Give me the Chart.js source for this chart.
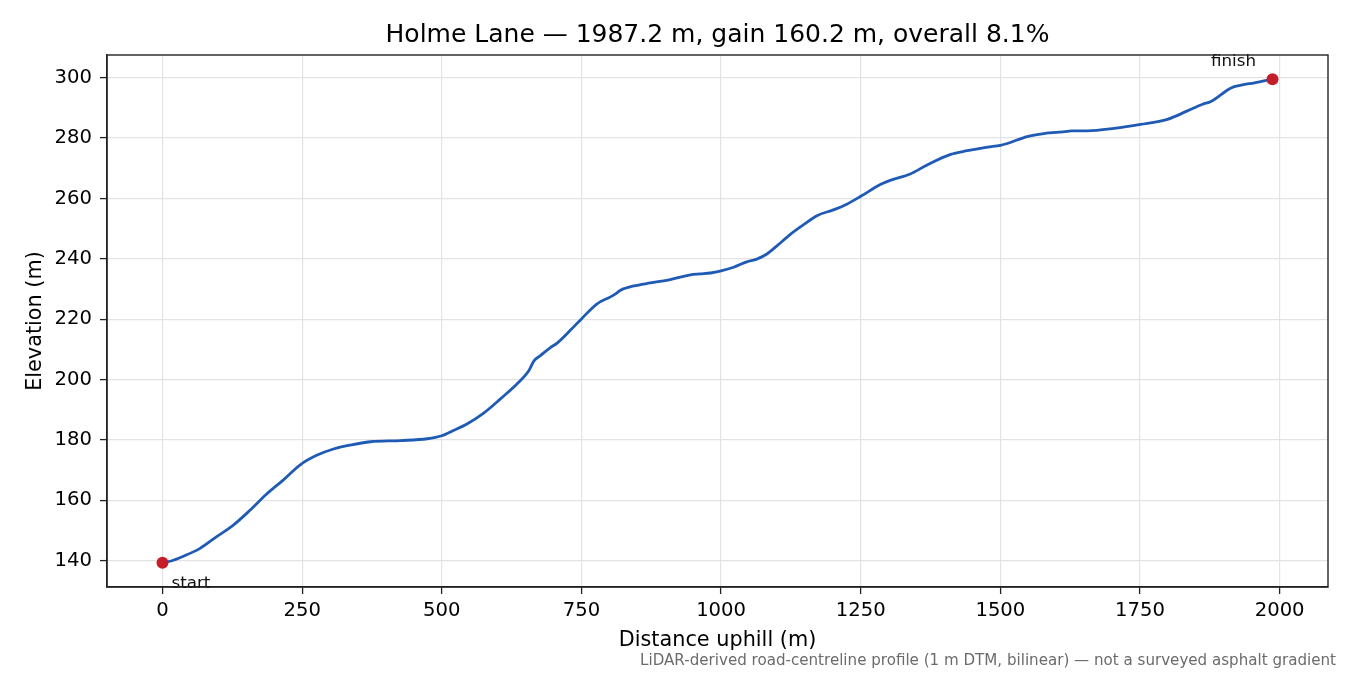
<!DOCTYPE html>
<html lang="en">
<head>
<meta charset="UTF-8">
<title>Holme Lane elevation profile</title>
<script src="https://cdn.jsdelivr.net/npm/chart.js"></script>
<style>
    body { margin: 0; background: #fff; }
    .wrap { position: relative; width: 1350px; height: 675px; }
</style>
</head>
<body>
<div class="wrap"><canvas id="profile"></canvas></div>
<script>
// distance along the road (m) and elevation (m)
const distance = [0, 15.6, 36.5, 66.5, 96.4, 126.3, 156, 186, 216, 246, 276, 306, 336, 372, 426, 474,
    500, 521.5, 545, 575, 605, 635, 656, 665, 677, 695, 706.5, 730, 750, 778, 802, 811, 820, 843.6,
    873.4, 909, 945, 963, 981, 1000, 1022.5, 1046, 1064, 1082, 1100, 1124, 1147.7, 1171.6, 1201, 1225,
    1250, 1285, 1302.8, 1338.7, 1369, 1411, 1441, 1477, 1500, 1512.5, 1548, 1578, 1620, 1627, 1656,
    1704, 1751, 1799, 1835, 1862, 1877, 1913, 1931, 1955, 1987.2];
const elevation = [139.3, 139.9, 141.4, 144.0, 147.9, 151.7, 156.6, 162.0, 166.7, 171.7, 174.9, 177.0,
    178.3, 179.4, 179.8, 180.4, 181.4, 183.2, 185.3, 188.9, 193.6, 198.6, 203.0, 206.2, 208.0, 210.7,
    212.1, 216.3, 220.1, 225.1, 227.4, 228.4, 229.6, 231.0, 232.0, 233.1, 234.7, 235.0, 235.3, 236.0,
    237.2, 239.0, 239.9, 241.6, 244.3, 248.1, 251.3, 254.3, 256.2, 258.1, 260.7, 264.6, 266.0, 268.1,
    271.1, 274.6, 275.8, 277.0, 277.6, 278.2, 280.5, 281.5, 282.2, 282.4, 282.4, 283.2, 284.5, 286.2,
    289.0, 291.2, 292.1, 296.6, 297.5, 298.3, 299.5];

const endLabels = ['start', 'finish'];
const xTicks = [0, 250, 500, 750, 1000, 1250, 1500, 1750, 2000];
const yTicks = [140, 160, 180, 200, 220, 240, 260, 280, 300];

const titleText = 'Holme Lane \u2014 1987.2 m, gain 160.2 m, overall 8.1%';
const xTitle = 'Distance uphill (m)';
const yTitle = 'Elevation (m)';
const note = 'LiDAR-derived road-centreline profile (1 m DTM, bilinear) \u2014 not a surveyed asphalt gradient';

const FONT = '"DejaVu Sans", sans-serif';

// matplotlib-like 5% margins
const xSpan = distance[distance.length - 1] - distance[0];
const ySpan = Math.max(...elevation) - Math.min(...elevation);
const xMin = distance[0] - xSpan * 0.05, xMax = distance[distance.length - 1] + xSpan * 0.05;
const yMin = Math.min(...elevation) - ySpan * 0.05, yMax = Math.max(...elevation) + ySpan * 0.05;

const profilePts = distance.map((d, i) => ({x: d, y: elevation[i]}));
const endPts = [
    {x: distance[0], y: elevation[0]},
    {x: distance[distance.length - 1], y: elevation[elevation.length - 1]}
];

// texts and frame drawn around the plot
const decorations = {
    id: 'decorations',
    afterDraw(chart) {
        const ctx = chart.ctx;
        const a = chart.chartArea;
        const xs = chart.scales.x, ys = chart.scales.y;
        ctx.save();
        ctx.fillStyle = '#000';

        ctx.font = '25px ' + FONT;
        ctx.textAlign = 'center';
        ctx.textBaseline = 'alphabetic';
        ctx.fillText(titleText, (a.left + a.right) / 2, 42);

        ctx.font = '20.8px ' + FONT;
        ctx.fillText(xTitle, (a.left + a.right) / 2, 646);

        ctx.save();
        ctx.translate(41, (a.top + a.bottom) / 2);
        ctx.rotate(-Math.PI / 2);
        ctx.fillText(yTitle, 0, 0);
        ctx.restore();

        // start / finish labels
        ctx.font = '16.7px ' + FONT;
        ctx.fillStyle = '#111';
        ctx.textAlign = 'left';
        ctx.fillText(endLabels[0], xs.getPixelForValue(endPts[0].x) + 9, ys.getPixelForValue(endPts[0].y) + 25);
        ctx.textAlign = 'center';
        ctx.fillText(endLabels[1], xs.getPixelForValue(endPts[1].x) - 39, ys.getPixelForValue(endPts[1].y) - 13);

        ctx.font = '15.1px ' + FONT;
        ctx.fillStyle = '#6b6b6b';
        ctx.textAlign = 'right';
        ctx.fillText(note, 1336, 665);

        // axes frame
        ctx.strokeStyle = '#222';
        ctx.lineWidth = 1.4;
        ctx.strokeRect(a.left, a.top, a.right - a.left, a.bottom - a.top);
        ctx.restore();
    }
};

new Chart(document.getElementById('profile').getContext('2d'), {
    type: 'line',
    data: {
        datasets: [{
            label: 'ends',
            data: endPts,
            showLine: false,
            pointRadius: 6,
            pointHoverRadius: 6,
            pointBackgroundColor: '#c41e2a',
            pointBorderWidth: 0,
            borderColor: '#c41e2a',
            clip: false
        }, {
            label: 'elevation',
            data: profilePts,
            borderColor: '#1f5bb5',
            borderWidth: 2.8,
            pointRadius: 0,
            cubicInterpolationMode: 'monotone',
            fill: false
        }]
    },
    options: {
        responsive: true,
        maintainAspectRatio: false,
        animation: false,
        devicePixelRatio: 1,
        layout: { padding: { top: 55, right: 22, left: 0, bottom: 0 } },
        plugins: {
            legend: { display: false },
            title: { display: false },
            tooltip: { enabled: false }
        },
        scales: {
            x: {
                type: 'linear',
                min: xMin,
                max: xMax,
                afterBuildTicks: s => { s.ticks = xTicks.map(v => ({value: v})); },
                afterFit: s => { s.height = 88; },
                grid: { color: '#e3e3e3', lineWidth: 1.2, tickColor: '#222', tickLength: 7, tickWidth: 1.3 },
                border: { display: true, color: '#222', width: 1.4 },
                ticks: { color: '#000', font: { family: FONT, size: 19.6 }, padding: 5, maxRotation: 0,
                         callback: v => String(v) }
            },
            y: {
                type: 'linear',
                min: yMin,
                max: yMax,
                afterBuildTicks: s => { s.ticks = yTicks.map(v => ({value: v})); },
                afterFit: s => { s.width = 107; },
                grid: { color: '#e3e3e3', lineWidth: 1.2, tickColor: '#222', tickLength: 7, tickWidth: 1.3 },
                border: { display: true, color: '#222', width: 1.4 },
                ticks: { color: '#000', font: { family: FONT, size: 19.6 }, padding: 8,
                         callback: v => String(v) }
            }
        }
    },
    plugins: [decorations]
});
</script>
</body>
</html>
